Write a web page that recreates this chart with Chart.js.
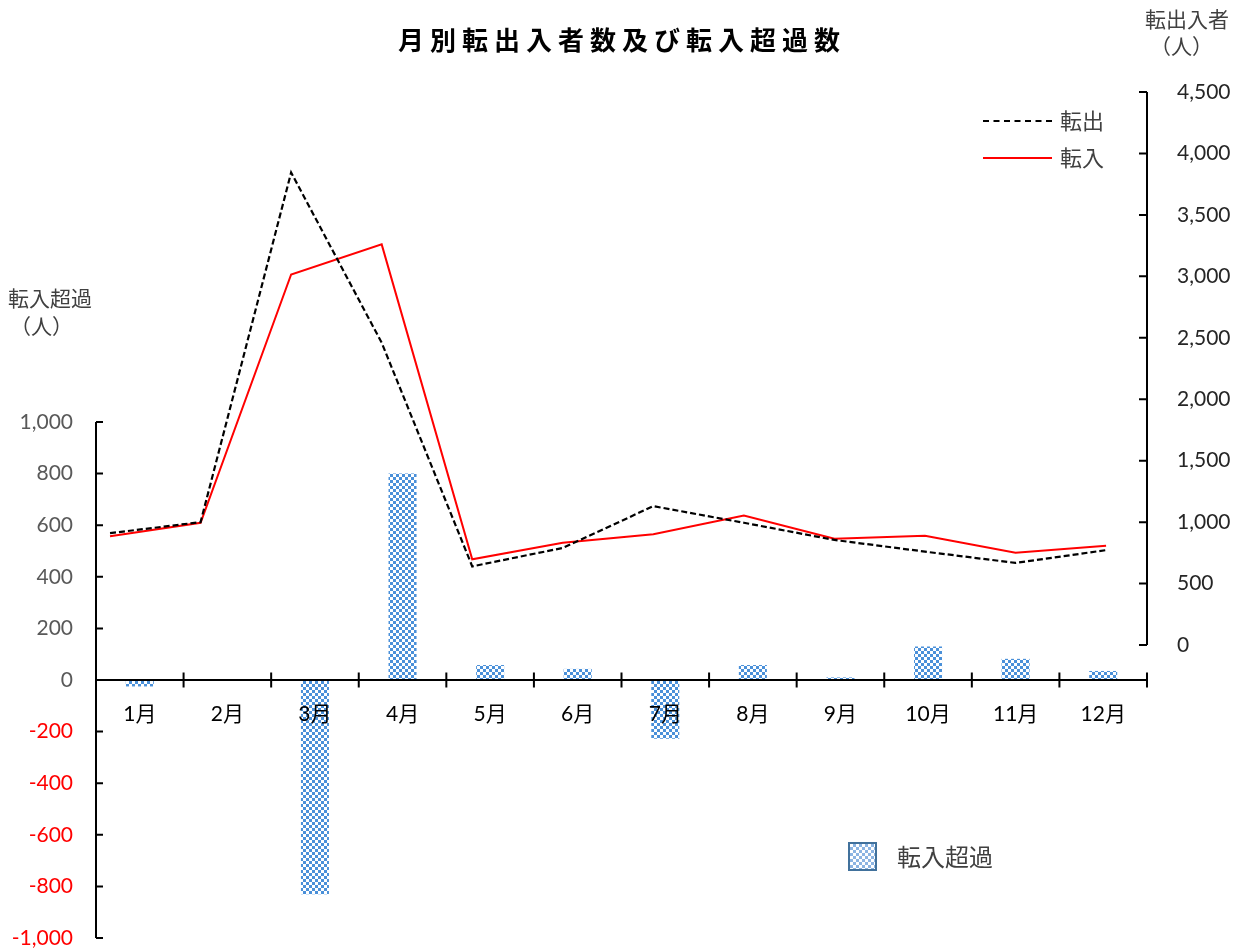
<!DOCTYPE html>
<html lang="ja">
<head>
<meta charset="utf-8">
<title>月別転出入者数及び転入超過数</title>
<script src="https://cdn.jsdelivr.net/npm/chart.js@4/dist/chart.umd.min.js"></script>
<style>
  html, body { margin: 0; padding: 0; background: #fff; }
  #wrap { position: relative; width: 1244px; height: 951px; font-family: Lato, "Noto Sans CJK JP", sans-serif; }
  #chart { position: absolute; left: 0; top: 0; }
  .txt { position: absolute; white-space: nowrap; color: #404040; font-family: "Noto Sans CJK JP", sans-serif; line-height: 1; }
  #title { left: 398px; top: 26px; font-size: 26px; font-weight: bold; letter-spacing: 6px; color: #000; }
  .lg-line { position: absolute; left: 983px; width: 69px; height: 0; }
  #swatch { position: absolute; left: 848px; top: 842px; width: 25px; height: 25px; border: 2px solid #41719C;
    background: repeating-conic-gradient(#8CB4E2 0% 25%, #fff 0% 50%) 0 0 / 6px 6px; }
</style>
</head>
<body>
<div id="wrap">
  <canvas id="chart" width="1244" height="951"></canvas>
  <div id="title" class="txt">月別転出入者数及び転入超過数</div>
  <div class="txt" style="left:8px;top:287px;font-size:21px;">転入超過</div>
  <div class="txt" style="left:10px;top:315px;font-size:21px;">（人）</div>
  <div class="txt" style="left:1145px;top:8px;font-size:21px;">転出入者</div>
  <div class="txt" style="left:1150px;top:35px;font-size:21px;">（人）</div>
  <div class="lg-line" style="top:120px;border-top:2px dashed #000;"></div>
  <div class="txt" style="left:1060px;top:108px;font-size:22px;">転出</div>
  <div class="lg-line" style="top:157px;border-top:2px solid #FF0000;"></div>
  <div class="txt" style="left:1060px;top:145px;font-size:22px;">転入</div>
  <div id="swatch"></div>
  <div class="txt" style="left:897px;top:844px;font-size:24px;">転入超過</div>
</div>
<script>
/* 月別転出入者数及び転入超過数 */

const MONTHS = ['1月', '2月', '3月', '4月', '5月', '6月', '7月', '8月', '9月', '10月', '11月', '12月'];
const TENSHUTSU = [910, 1000, 3845, 2460, 640, 790, 1130, 995, 855, 760, 668, 772];
const TENNYU = [885, 995, 3015, 3260, 698, 833, 902, 1053, 865, 890, 750, 807];
const CHOKA = [-25, -2, -830, 800, 58, 43, -228, 58, 10, 130, 82, 35];

const LEFT_TICKS = [-1000, -800, -600, -400, -200, 0, 200, 400, 600, 800, 1000];
const RIGHT_TICKS = [0, 500, 1000, 1500, 2000, 2500, 3000, 3500, 4000, 4500];

// checkerboard fill like the Excel pattern
function makePattern() {
  const c = document.createElement('canvas');
  c.width = 6;
  c.height = 6;
  const p = c.getContext('2d');
  p.fillStyle = '#ffffff';
  p.fillRect(0, 0, 6, 6);
  p.fillStyle = '#4A90D9';
  p.fillRect(0, 0, 3, 3);
  p.fillRect(3, 3, 3, 3);
  return p.createPattern(c, 'repeat');
}

const fmt = v => Number(v).toLocaleString('en-US');

// y scales: fixed tick list, fixed width, no extra label padding in the layout
function fixY(list, width) {
  return {
    afterBuildTicks: s => { s.ticks = list.map(v => ({ value: v })); },
    afterFit: s => {
      s.width = width;
      s.paddingTop = 0;
      s.paddingBottom = 0;
    },
  };
}

// Excel-style axes: inside ticks on y axes, crossing ticks on x axis
const axesPlugin = {
  id: 'excelAxes',
  afterDatasetsDraw(chart) {
    const { ctx, chartArea, scales } = chart;
    const yl = scales.yL, yr = scales.yR, x = scales.x;
    ctx.save();
    ctx.strokeStyle = '#000';
    ctx.lineWidth = 2;

    // left axis
    const lx = chartArea.left;
    ctx.beginPath();
    ctx.moveTo(lx, yl.getPixelForValue(LEFT_TICKS[LEFT_TICKS.length - 1]));
    ctx.lineTo(lx, chartArea.bottom);
    LEFT_TICKS.forEach(v => {
      const py = yl.getPixelForValue(v);
      ctx.moveTo(lx, py);
      ctx.lineTo(lx + 7, py);
    });
    ctx.stroke();

    // right axis
    const rx = chartArea.right;
    ctx.beginPath();
    ctx.moveTo(rx, yr.getPixelForValue(RIGHT_TICKS[RIGHT_TICKS.length - 1]));
    ctx.lineTo(rx, yr.getPixelForValue(RIGHT_TICKS[0]));
    RIGHT_TICKS.forEach(v => {
      const py = yr.getPixelForValue(v);
      ctx.moveTo(rx, py);
      ctx.lineTo(rx - 8, py);
    });
    ctx.stroke();

    // x axis at 0
    const y0 = yl.getPixelForValue(0);
    const step = (chartArea.right - chartArea.left) / MONTHS.length;
    ctx.beginPath();
    ctx.moveTo(chartArea.left, y0);
    ctx.lineTo(chartArea.right, y0);
    for (let i = 0; i <= MONTHS.length; i++) {
      const px = i < MONTHS.length ? x.getPixelForValue(i) - step / 2 : chartArea.right;
      ctx.moveTo(px, y0 - 7.5);
      ctx.lineTo(px, y0 + 7.5);
    }
    ctx.stroke();
    ctx.restore();
  }
};

const ctx = document.getElementById('chart').getContext('2d');

new Chart(ctx, {
  type: 'bar',
  data: {
    labels: MONTHS,
    datasets: [
      {
        type: 'line',
        label: '転出',
        data: TENSHUTSU.map((v, i) => ({ x: i, y: v })),
        xAxisID: 'x2',
        yAxisID: 'yR',
        borderColor: '#000000',
        borderDash: [6, 3],
        borderWidth: 2.2,
        pointRadius: 0,
        tension: 0,
        order: 1,
      },
      {
        type: 'line',
        label: '転入',
        data: TENNYU.map((v, i) => ({ x: i, y: v })),
        xAxisID: 'x2',
        yAxisID: 'yR',
        borderColor: '#FF0000',
        borderWidth: 2,
        pointRadius: 0,
        tension: 0,
        order: 1,
      },
      {
        type: 'bar',
        label: '転入超過',
        data: CHOKA,
        xAxisID: 'x',
        yAxisID: 'yL',
        backgroundColor: makePattern(),
        borderWidth: 0,
        grouped: false,
        barPercentage: 0.32,
        categoryPercentage: 1,
        order: 2,
      },
    ]
  },
  options: {
    responsive: false,
    animation: false,
    layout: { padding: { top: 92, bottom: 13, left: 0, right: 0 } },
    plugins: {
      legend: { display: false },
      title: { display: false },
      tooltip: { enabled: false },
    },
    scales: {
      x: {
        type: 'category',
        position: { yL: 0 },
        offset: true,
        grid: { display: false, drawTicks: false },
        border: { display: false },
        afterFit: s => { s.height = 0; },
        ticks: {
          z: 1,
          color: '#000',
          padding: 22,
          maxRotation: 0,
          autoSkip: false,
          font: { family: 'Lato, "Noto Sans CJK JP", sans-serif', size: 21 },
        },
      },
      x2: {
        type: 'linear',
        display: false,
        offset: false,
        bounds: 'data',
        min: -0.155,
        max: 11.452,
        grid: { offset: false },
      },
      yL: {
        type: 'linear',
        position: 'left',
        min: -1000,
        max: 2279,
        grid: { display: false, drawTicks: false },
        border: { display: false },
        ...fixY(LEFT_TICKS, 96),
        ticks: {
          padding: 23,
          color: c => (c.tick && c.tick.value < 0 ? '#FF0000' : '#595959'),
          font: { family: 'Lato, sans-serif', size: 21 },
          callback: v => fmt(v),
        },
      },
      yR: {
        type: 'linear',
        position: 'right',
        min: -2384,
        max: 4500,
        grid: { display: false, drawTicks: false },
        border: { display: false },
        ...fixY(RIGHT_TICKS, 97),
        ticks: {
          padding: 30,
          color: '#262626',
          font: { family: 'Lato, sans-serif', size: 21 },
          callback: v => fmt(v),
        },
      },
    },
  },
  plugins: [axesPlugin],
});
</script>
</body>
</html>
